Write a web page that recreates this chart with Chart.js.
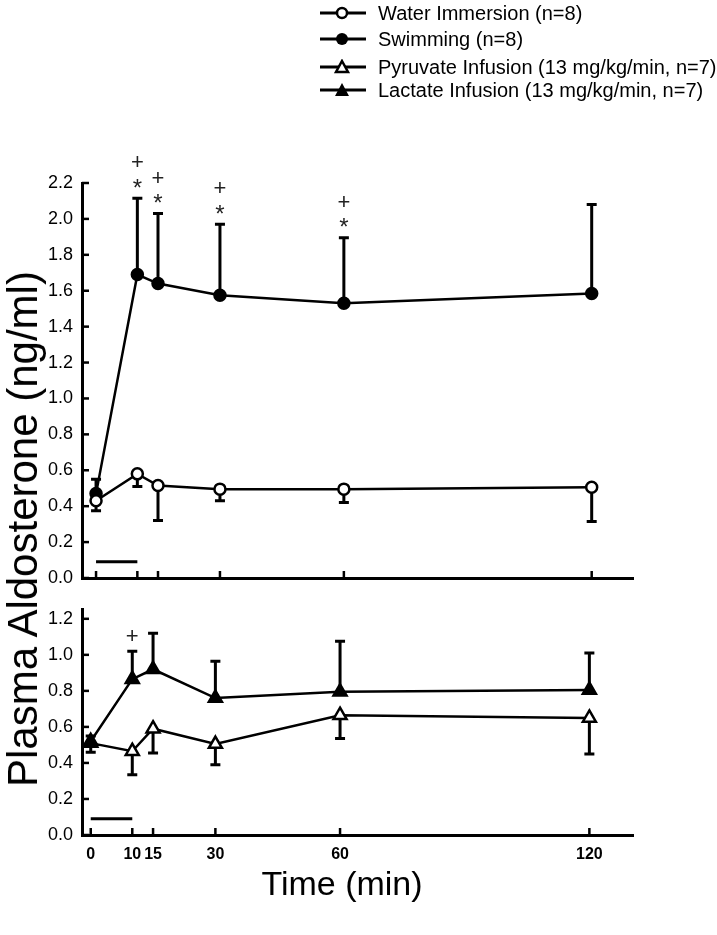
<!DOCTYPE html>
<html>
<head>
<meta charset="utf-8">
<script src="https://cdn.jsdelivr.net/npm/chart.js@4.4.1/dist/chart.umd.min.js"></script>
<style>
	body { margin: 0; background: #fff; width: 717px; height: 935px; position: relative; overflow: hidden; font-family: "Liberation Sans", Arial, sans-serif; color: #000; }
	canvas { position: absolute; left: 0; }
	#topChart { top: 0; }
	#bottomChart { top: 590px; }
	.legend-row { position: absolute; left: 318px; height: 24px; display: flex; align-items: center; font-size: 20px; white-space: nowrap; }
	.legend-row svg { margin-right: 10px; }
	#yTitle { position: absolute; left: 23px; top: 529px; line-height: 1; transform: translate(-50%, -50%) rotate(-90deg); font-size: 42px; white-space: nowrap; }
	#xTitle { position: absolute; left: 342px; top: 883px; transform: translate(-50%, -50%); font-size: 34px; white-space: nowrap; }
</style>
</head>
<body>
<canvas id="topChart" width="717" height="600"></canvas>
<canvas id="bottomChart" width="717" height="345"></canvas>
<div id="legend"></div>
<div id="yTitle">Plasma Aldosterone (ng/ml)</div>
<div id="xTitle">Time (min)</div>
<script>
// time points (min) and tick labels
const timeMin = [0, 10, 15, 30, 60, 120];
const xTicks = [0, 10, 15, 30, 60, 120];
const yTopTicks = [0, 0.2, 0.4, 0.6, 0.8, 1.0, 1.2, 1.4, 1.6, 1.8, 2.0, 2.2];
const yBottomTicks = [0, 0.2, 0.4, 0.6, 0.8, 1.0, 1.2];

// plasma aldosterone, mean and SE (ng/ml)
const waterMean = [0.43, 0.58, 0.515, 0.495, 0.495, 0.505];
const waterSE = [0.055, 0.07, 0.195, 0.065, 0.075, 0.19];
const swimMean = [0.47, 1.69, 1.64, 1.575, 1.53, 1.585];
const swimSE = [0.08, 0.425, 0.39, 0.395, 0.365, 0.495];
const pyruvateMean = [0.51, 0.465, 0.59, 0.505, 0.665, 0.65];
const pyruvateSE = [0.05, 0.13, 0.135, 0.115, 0.13, 0.2];
const lactateMean = [0.52, 0.865, 0.92, 0.76, 0.795, 0.805];
const lactateSE = [0.03, 0.155, 0.2, 0.205, 0.28, 0.205];

// significance marks above the error bars
const swimSig = ["", "+*", "+*", "+*", "+*", ""];
const lactateSig = ["", "+", "", "", "", ""];

// exercise / infusion period bar
const periodTime = [0, 10];
const periodLevel = [0.09, 0.09];

const seriesNames = [
	"Water Immersion (n=8)",
	"Swimming (n=8)",
	"Pyruvate Infusion (13 mg/kg/min, n=7)",
	"Lactate Infusion (13 mg/kg/min, n=7)",
];

const FONT = '"Liberation Sans", Arial, sans-serif';
Chart.defaults.font.family = FONT;
Chart.defaults.color = "#000";

const pts = (xs, ys) => xs.map((x, i) => ({ x: x, y: ys[i] }));

const errorBars = {
	id: "errorBars",
	beforeDatasetsDraw(chart) {
		const ctx = chart.ctx;
		const ys = chart.scales.y;
		chart.data.datasets.forEach((ds, i) => {
			if (!ds.se) return;
			chart.getDatasetMeta(i).data.forEach((pt, j) => {
				const end = ys.getPixelForValue(ds.data[j].y + ds.dir * ds.se[j]);
				ctx.save();
				ctx.strokeStyle = "#000";
				ctx.lineWidth = 3;
				ctx.beginPath();
				ctx.moveTo(pt.x, pt.y);
				ctx.lineTo(pt.x, end);
				ctx.moveTo(pt.x - 5, end);
				ctx.lineTo(pt.x + 5, end);
				ctx.stroke();
				ctx.restore();
			});
		});
	},
	afterDatasetsDraw(chart) {
		const ctx = chart.ctx;
		const ys = chart.scales.y;
		chart.data.datasets.forEach((ds, i) => {
			if (!ds.sig) return;
			chart.getDatasetMeta(i).data.forEach((pt, j) => {
				const marks = ds.sig[j];
				if (!marks) return;
				const top = ys.getPixelForValue(ds.data[j].y + ds.se[j]);
				ctx.save();
				ctx.fillStyle = "#222";
				ctx.textAlign = "center";
				ctx.textBaseline = "middle";
				for (let k = marks.length - 1, n = 0; k >= 0; k--, n++) {
					const c = marks[k];
					let off = n === 0 ? (c === "*" ? 9 : 14) : 35;
					ctx.font = (c === "*" ? "24px " : "22px ") + FONT;
					ctx.fillText(c, pt.x, top - off);
				}
				ctx.restore();
			});
		});
	},
};

const innerTicks = {
	id: "innerTicks",
	afterDraw(chart) {
		const { ctx, chartArea, scales } = chart;
		ctx.save();
		ctx.strokeStyle = "#000";
		ctx.lineWidth = 2.5;
		scales.x.ticks.forEach((t) => {
			const px = scales.x.getPixelForValue(t.value);
			ctx.beginPath();
			ctx.moveTo(px, chartArea.bottom);
			ctx.lineTo(px, chartArea.bottom - 7);
			ctx.stroke();
		});
		scales.y.ticks.forEach((t) => {
			const py = scales.y.getPixelForValue(t.value);
			ctx.beginPath();
			ctx.moveTo(chartArea.left, py);
			ctx.lineTo(chartArea.left + 7, py);
			ctx.stroke();
		});
		ctx.restore();
	},
};

const lineSet = (label, data, se, dir, style, filled, radius) => ({
	label: label,
	data: data,
	se: se,
	dir: dir,
	borderColor: "#000",
	borderWidth: 2.5,
	pointStyle: style,
	pointRadius: radius,
	pointBorderWidth: 2.5,
	pointBorderColor: "#000",
	pointBackgroundColor: filled ? "#000" : "#fff",
	tension: 0,
});

const periodSet = () => ({
	data: pts(periodTime, periodLevel),
	borderColor: "#000",
	borderWidth: 3,
	pointRadius: 0,
});

const baseOptions = (yMax, yTicks, xMin, xMax, padTop, xHeight, showX) => ({
	responsive: false,
	animation: false,
	layout: { padding: { top: padTop, right: 84, left: 0, bottom: 0 } },
	plugins: { legend: { display: false }, tooltip: { enabled: false } },
	scales: {
		x: {
			type: "linear",
			min: xMin,
			max: xMax,
			grid: { display: false, drawTicks: false },
			border: { display: true, width: 3, color: "#000" },
			afterBuildTicks: (s) => { s.ticks = xTicks.map((v) => ({ value: v })); },
			afterFit: (s) => { s.height = xHeight; },
			ticks: {
				display: showX,
				autoSkip: false,
				maxRotation: 0,
				padding: 10,
				font: { size: 16, weight: "bold" },
				callback: (v) => String(v),
			},
		},
		y: {
			type: "linear",
			min: 0,
			max: yMax,
			grid: { display: false, drawTicks: false },
			border: { display: true, width: 3, color: "#000" },
			afterBuildTicks: (s) => { s.ticks = yTicks.map((v) => ({ value: v })); },
			afterFit: (s) => { s.width = 82; },
			ticks: {
				padding: 9,
				font: { size: 18 },
				callback: (v) => Number(v).toFixed(1),
			},
		},
	},
});

const topSwim = lineSet(seriesNames[1], pts(timeMin, swimMean), swimSE, 1, "circle", true, 5.5);
topSwim.sig = swimSig;
const topWater = lineSet(seriesNames[0], pts(timeMin, waterMean), waterSE, -1, "circle", false, 5.5);

new Chart(document.getElementById("topChart"), {
	type: "line",
	data: { datasets: [topWater, topSwim, periodSet()] },
	options: baseOptions(2.2, yTopTicks, -3.4, 130, 183, 22, false),
	plugins: [errorBars, innerTicks],
});

const botLact = lineSet(seriesNames[3], pts(timeMin, lactateMean), lactateSE, 1, "triangle", true, 7.5);
botLact.sig = lactateSig;
const botPyr = lineSet(seriesNames[2], pts(timeMin, pyruvateMean), pyruvateSE, -1, "triangle", false, 7.5);

new Chart(document.getElementById("bottomChart"), {
	type: "line",
	data: { datasets: [botLact, botPyr, periodSet()] },
	options: baseOptions(1.25, yBottomTicks, -2.1, 130.5, 17, 100, true),
	plugins: [errorBars, innerTicks],
});

// legend
const legendTops = [1, 27, 55, 78];
const legendMarks = [
	'<circle cx="24" cy="8" r="5" fill="#fff" stroke="#000" stroke-width="2.5"/>',
	'<circle cx="24" cy="8" r="6" fill="#000"/>',
	'<polygon points="24,2 30,13 18,13" fill="#fff" stroke="#000" stroke-width="2.5"/>',
	'<polygon points="24,1 31,14 17,14" fill="#000"/>',
];
const legend = document.getElementById("legend");
seriesNames.forEach((name, i) => {
	const row = document.createElement("div");
	row.className = "legend-row";
	row.style.top = legendTops[i] + "px";
	row.innerHTML = '<svg width="50" height="16"><line x1="2" y1="8" x2="48" y2="8" stroke="#000" stroke-width="3"/>' + legendMarks[i] + "</svg><span>" + name + "</span>";
	legend.appendChild(row);
});
</script>
</body>
</html>
